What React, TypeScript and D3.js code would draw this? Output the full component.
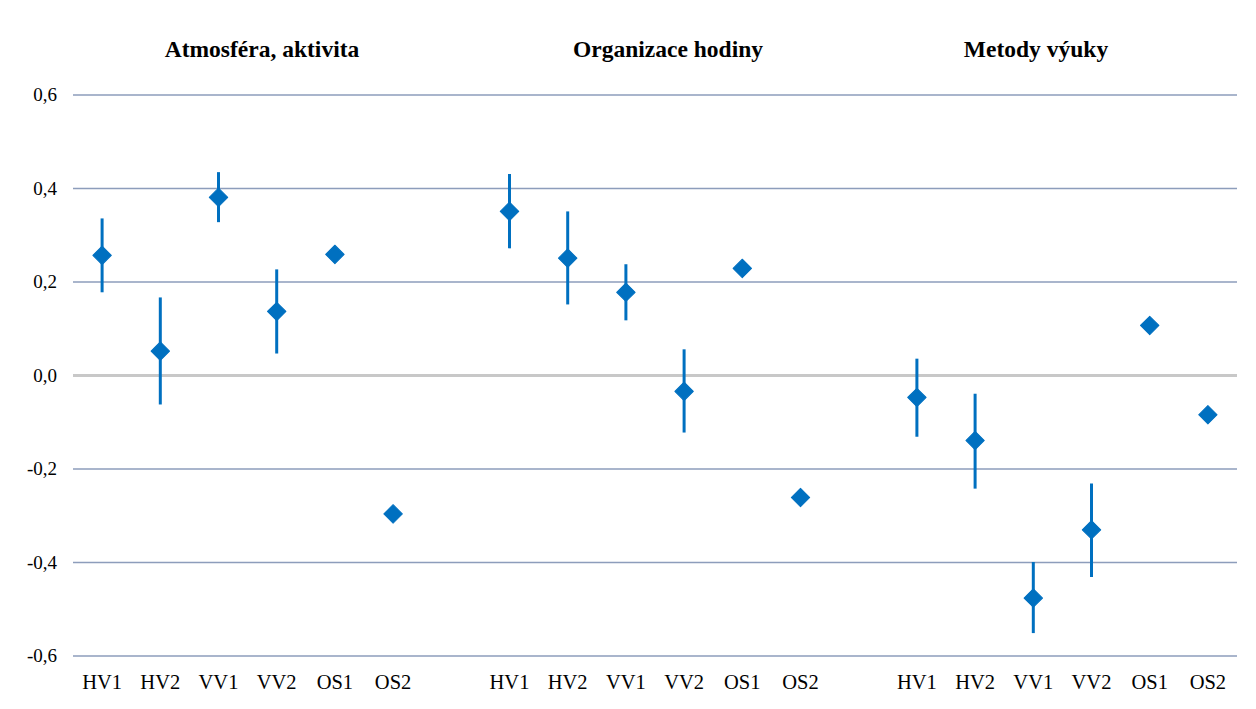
import React, { useRef, useEffect } from 'react';
import * as d3 from 'd3';

const groups = ['Atmosféra, aktivita', 'Organizace hodiny', 'Metody výuky'];
const codes = ['HV1', 'HV2', 'VV1', 'VV2', 'OS1', 'OS2'];
const yTicks = [-0.6, -0.4, -0.2, 0, 0.2, 0.4, 0.6];

// means per group (in codes order)
const atmosferaMean = [0.257, 0.052, 0.381, 0.137, 0.259, -0.296];
const organizaceMean = [0.351, 0.251, 0.178, -0.034, 0.229, -0.261];
const metodyMean = [-0.047, -0.139, -0.476, -0.330, 0.107, -0.084];
// error bar low / high (null = no bar)
const atmosferaLow = [0.178, -0.062, 0.328, 0.047, null, null];
const atmosferaHigh = [0.336, 0.167, 0.435, 0.227, null, null];
const organizaceLow = [0.272, 0.152, 0.118, -0.122, null, null];
const organizaceHigh = [0.431, 0.351, 0.238, 0.056, null, null];
const metodyLow = [-0.131, -0.242, -0.551, -0.431, null, null];
const metodyHigh = [0.036, -0.039, -0.399, -0.231, null, null];

const means = [atmosferaMean, organizaceMean, metodyMean];
const lows = [atmosferaLow, organizaceLow, metodyLow];
const highs = [atmosferaHigh, organizaceHigh, metodyHigh];
const titleX = [262, 668, 1036];

const W = 1256, H = 709;
const left = 73, right = 1237, top = 95, bottom = 656;
const blue = '#0070C0';

const App = () => {
  const svgRef = useRef<SVGSVGElement>(null);

  useEffect(() => {
    const svg = d3.select(svgRef.current);
    svg.selectAll('*').remove();

    // 20 slots: 6 per group + 1 empty gap between groups
    const slots: string[] = [];
    groups.forEach((g, gi) => {
      codes.forEach(c => slots.push(`${gi}-${c}`));
      if (gi < groups.length - 1) slots.push(`gap-${gi}`);
    });
    const x = d3.scaleBand().domain(slots).range([left, right]);
    const y = d3.scaleLinear().domain([-0.6, 0.6]).range([bottom, top]);

    const font = '"Liberation Serif", "Times New Roman", serif';

    // grid
    svg.append('g')
      .selectAll('line')
      .data(yTicks.filter(t => t !== 0))
      .join('line')
      .attr('x1', left).attr('x2', right)
      .attr('y1', d => y(d)).attr('y2', d => y(d))
      .attr('stroke', '#8D9DBB').attr('stroke-width', 1.3);

    svg.append('line')
      .attr('x1', left).attr('x2', right)
      .attr('y1', y(0)).attr('y2', y(0))
      .attr('stroke', '#C8C8C8').attr('stroke-width', 3);

    // y labels
    svg.append('g')
      .selectAll('text')
      .data(yTicks)
      .join('text')
      .attr('x', 57).attr('y', d => y(d) + 6)
      .attr('text-anchor', 'end')
      .attr('font-family', font).attr('font-size', 19)
      .text(d => d3.format('.1f')(d).replace('.', ',').replace('−', '-'));

    // category labels
    const catData = groups.flatMap((g, gi) => codes.map(c => ({ key: `${gi}-${c}`, c })));
    svg.append('g')
      .selectAll('text')
      .data(catData)
      .join('text')
      .attr('x', d => (x(d.key) as number) + x.bandwidth() / 2)
      .attr('y', 689)
      .attr('text-anchor', 'middle')
      .attr('font-family', font).attr('font-size', 20.5)
      .text(d => d.c);

    // titles
    svg.append('g')
      .selectAll('text')
      .data(groups)
      .join('text')
      .attr('x', (d, i) => titleX[i]).attr('y', 57)
      .attr('text-anchor', 'middle')
      .attr('font-family', font).attr('font-size', 23.5).attr('font-weight', 'bold')
      .text(d => d);

    const points = groups.flatMap((g, gi) => codes.map((c, ci) => ({
      key: `${gi}-${c}`, v: means[gi][ci], lo: lows[gi][ci], hi: highs[gi][ci],
    })));

    // error bars
    svg.append('g')
      .selectAll('line')
      .data(points.filter(p => p.lo !== null))
      .join('line')
      .attr('x1', d => (x(d.key) as number) + x.bandwidth() / 2)
      .attr('x2', d => (x(d.key) as number) + x.bandwidth() / 2)
      .attr('y1', d => y(d.lo as number)).attr('y2', d => y(d.hi as number))
      .attr('stroke', blue).attr('stroke-width', 3);

    // diamonds
    const diamond = d3.symbol().type(d3.symbolSquare).size(170);
    svg.append('g')
      .selectAll('path')
      .data(points)
      .join('path')
      .attr('d', diamond)
      .attr('transform', d => `translate(${(x(d.key) as number) + x.bandwidth() / 2},${y(d.v)}) rotate(45)`)
      .attr('fill', blue)
      .attr('stroke', blue).attr('stroke-width', 1).attr('stroke-linejoin', 'round');
  }, []);

  return (
    <svg ref={svgRef} width={W} height={H}
      style={{ position: 'absolute', left: 0, top: 0, background: '#fff' }} />
  );
};

export default App;
